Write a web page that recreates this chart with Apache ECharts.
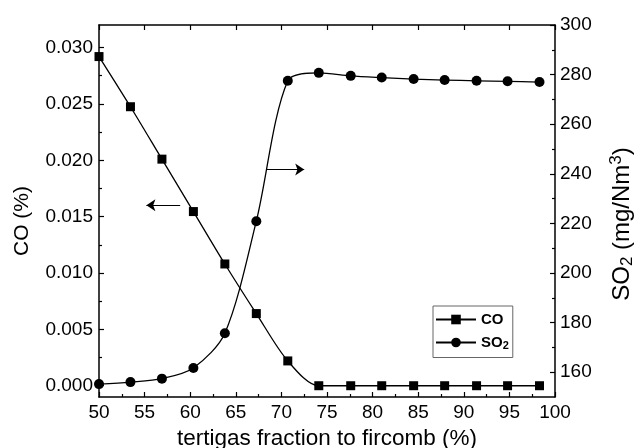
<!DOCTYPE html>
<html>
<head>
<meta charset="utf-8">
<script src="https://cdn.jsdelivr.net/npm/echarts@6/dist/echarts.min.js"></script>
<style>
  html, body { margin: 0; padding: 0; background: #fff; }
  #chart { width: 638px; height: 448px; }
</style>
</head>
<body>
<div id="chart"></div>
<script>
// tertigas fraction (%)
var fraction = [50, 53.45, 56.9, 60.35, 63.8, 67.25, 70.7, 74.1, 77.6, 81.0, 84.5, 87.9, 91.4, 94.8, 98.3];
// CO (%) - left axis
var coValues = [0.0292, 0.02475, 0.0201, 0.01545, 0.0108, 0.0064, 0.0022, 0, 0, 0, 0, 0, 0, 0, 0];
// SO2 (mg/Nm3) - right axis
var so2Values = [155.2, 156.0, 157.4, 161.7, 175.7, 220.9, 277.5, 280.7, 279.5, 278.8, 278.2, 277.8, 277.5, 277.3, 277.0];

// tick values
var coMajor = [0, 0.005, 0.010, 0.015, 0.020, 0.025, 0.030];
var coMinor = [0.0025, 0.0075, 0.0125, 0.0175, 0.0225, 0.0275];
var so2Major = [160, 180, 200, 220, 240, 260, 280, 300];
var so2Minor = [170, 190, 210, 230, 250, 270, 290];

// arrows pointing at the axis of each curve
var coArrow = [[58.9, 0.016], [55.2, 0.016]];
var so2Arrow = [[68.4, 241.7], [72.5, 241.7]];

var FONT = 'Liberation Sans, Arial, sans-serif';
var black = '#000';

function pairs(xs, ys) {
  var out = [];
  for (var i = 0; i < xs.length; i++) out.push([xs[i], ys[i]]);
  return out;
}

var myChart = echarts.init(document.getElementById('chart'), null, { renderer: 'canvas' });

var baseLine = { show: true, onZero: false, lineStyle: { color: black, width: 1.5 } };
var arrowMark = function (pts) {
  return {
    silent: true,
    symbol: ['none', 'arrow'],
    symbolSize: 9,
    label: { show: false },
    lineStyle: { color: black, width: 1.2, type: 'solid' },
    data: [[{ coord: pts[0] }, { coord: pts[1] }]]
  };
};

var option = {
  animation: false,
  backgroundColor: '#fff',
  textStyle: { fontFamily: FONT, color: black },
  grid: { left: 99, top: 25, right: 83, bottom: 51, containLabel: false, outerBoundsMode: 'none' },
  legend: {
    orient: 'vertical',
    left: 433,
    top: 306,
    padding: [6, 4, 6, 2],
    itemGap: 8,
    itemWidth: 40,
    itemHeight: 12,
    borderColor: '#666',
    borderWidth: 1,
    data: ['CO', 'SO2'],
    formatter: function (name) {
      return name === 'SO2' ? '{b|SO}{s|2}' : '{b|CO}';
    },
    textStyle: {
      fontFamily: FONT,
      color: black,
      rich: {
        b: { fontSize: 15, fontWeight: 'bold', fontFamily: FONT, color: black },
        s: { fontSize: 11, fontWeight: 'bold', fontFamily: FONT, color: black, padding: [7, 0, 0, 0] }
      }
    }
  },
  xAxis: [
    {
      type: 'value',
      min: 50,
      max: 100,
      interval: 5,
      position: 'bottom',
      name: 'tertigas fraction to fircomb (%)',
      nameLocation: 'middle',
      nameGap: 25,
      nameTextStyle: { fontSize: 22.5, fontFamily: FONT, color: black },
      axisLine: baseLine,
      axisTick: { inside: true, length: 5, lineStyle: { color: black, width: 1.2 } },
      minorTick: { show: true, splitNumber: 2, length: 3, lineStyle: { color: black, width: 1.2 } },
      axisLabel: { fontSize: 19, color: black, fontFamily: FONT, margin: 6 },
      splitLine: { show: false }
    },
    {
      type: 'value',
      min: 50,
      max: 100,
      interval: 5,
      position: 'top',
      axisLine: baseLine,
      axisTick: { inside: true, length: 5, lineStyle: { color: black, width: 1.2 } },
      axisLabel: { show: false },
      splitLine: { show: false }
    }
  ],
  yAxis: [
    {
      type: 'value',
      min: -0.001,
      max: 0.032,
      position: 'left',
      name: 'CO (%)',
      nameLocation: 'middle',
      nameGap: 66,
      nameTextStyle: { fontSize: 21, fontFamily: FONT, color: black, padding: [0, 20, 0, 0] },
      axisLine: baseLine,
      axisTick: { inside: true, length: 5, customValues: coMajor, lineStyle: { color: black, width: 1.2 } },
      axisLabel: {
        fontSize: 19, color: black, fontFamily: FONT, margin: 6,
        customValues: coMajor,
        formatter: function (v) { return v.toFixed(3); }
      },
      splitLine: { show: false }
    },
    {
      type: 'value',
      min: 150,
      max: 300,
      position: 'right',
      name: 'SO{s|2} (mg/Nm{p|3})',
      nameLocation: 'middle',
      nameGap: 53,
      nameRotate: 90,
      nameTextStyle: {
        fontSize: 24, fontFamily: FONT, color: black, padding: [0, 26, 0, 0],
        rich: {
          s: { fontSize: 17, fontFamily: FONT, color: black, padding: [11, 0, 0, 0] },
          p: { fontSize: 17, fontFamily: FONT, color: black, padding: [0, 0, 11, 0] }
        }
      },
      axisLine: baseLine,
      axisTick: { inside: true, length: 5, customValues: so2Major, lineStyle: { color: black, width: 1.2 } },
      axisLabel: { fontSize: 19, color: black, fontFamily: FONT, margin: 5, customValues: so2Major },
      splitLine: { show: false }
    },
    {
      // minor ticks of the CO axis
      type: 'value',
      min: -0.001,
      max: 0.032,
      position: 'left',
      axisLine: { show: false },
      axisTick: { inside: true, length: 3, customValues: coMinor, lineStyle: { color: black, width: 1.2 } },
      axisLabel: { show: false },
      splitLine: { show: false }
    },
    {
      // minor ticks of the SO2 axis
      type: 'value',
      min: 150,
      max: 300,
      position: 'right',
      axisLine: { show: false },
      axisTick: { inside: true, length: 3, customValues: so2Minor, lineStyle: { color: black, width: 1.2 } },
      axisLabel: { show: false },
      splitLine: { show: false }
    }
  ],
  series: [
    {
      name: 'CO',
      type: 'line',
      xAxisIndex: 0,
      yAxisIndex: 0,
      data: pairs(fraction, coValues),
      smooth: 0.3,
      symbol: 'rect',
      symbolSize: 9,
      itemStyle: { color: black },
      lineStyle: { color: black, width: 1.3 },
      markLine: arrowMark(coArrow)
    },
    {
      name: 'SO2',
      type: 'line',
      xAxisIndex: 0,
      yAxisIndex: 1,
      data: pairs(fraction, so2Values),
      smooth: 0.3,
      symbol: 'circle',
      symbolSize: 10,
      itemStyle: { color: black },
      lineStyle: { color: black, width: 1.3 },
      markLine: arrowMark(so2Arrow)
    }
  ]
};

myChart.setOption(option);
</script>
</body>
</html>
